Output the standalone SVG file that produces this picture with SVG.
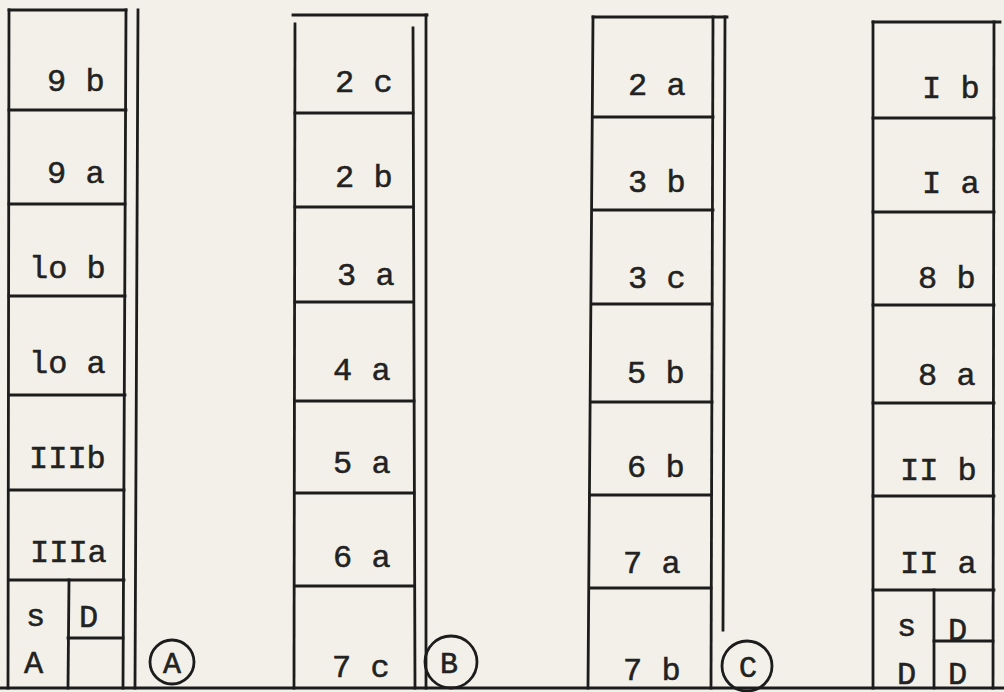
<svg xmlns="http://www.w3.org/2000/svg" width="1004" height="692" viewBox="0 0 1004 692">
<style>
.ln{stroke:#1c1c1c;stroke-width:2.8;fill:none;stroke-linecap:square}
.lb{font-family:"Liberation Mono","Courier New",monospace;font-size:32px;fill:#222;stroke:#222;stroke-width:0.5}
.cl{font-family:"Liberation Mono","Courier New",monospace;font-size:30px;fill:#222;stroke:#222;stroke-width:0.6;text-anchor:middle}
</style>
<rect width="1004" height="692" fill="#f2f0e9"/>
<g id="frame">
<line class="ln" x1="0" y1="688" x2="1004" y2="688"/>
</g>
<g id="colA">
<line class="ln" x1="9" y1="10" x2="126" y2="10"/>
<line class="ln" x1="9" y1="10" x2="8" y2="688" stroke-dasharray="30 3"/>
<line class="ln" x1="126" y1="10" x2="123" y2="688"/>
<line class="ln" x1="138" y1="10" x2="135" y2="688"/>
<line class="ln" x1="9" y1="110" x2="126" y2="110"/>
<line class="ln" x1="9" y1="204" x2="125" y2="204"/>
<line class="ln" x1="9" y1="296" x2="125" y2="296"/>
<line class="ln" x1="9" y1="395" x2="125" y2="395"/>
<line class="ln" x1="9" y1="490" x2="124" y2="490"/>
<line class="ln" x1="9" y1="580" x2="124" y2="580"/>
<line class="ln" x1="69" y1="580" x2="68" y2="688"/>
<line class="ln" x1="68" y1="638" x2="123" y2="638"/>
<text class="lb" x="47" y="91">9 b</text>
<text class="lb" x="47" y="183">9 a</text>
<text class="lb" x="29" y="278">lo b</text>
<text class="lb" x="29" y="373">lo a</text>
<text class="lb" x="29" y="468">IIIb</text>
<text class="lb" x="30" y="562">IIIa</text>
<text class="lb" x="26" y="626">s</text>
<text class="lb" x="79" y="627">D</text>
<text class="lb" x="24" y="673">A</text>
<circle class="ln" cx="172" cy="662" r="22"/>
<text class="cl" x="172" y="673">A</text>
</g>
<g id="colB">
<line class="ln" x1="293" y1="15" x2="427" y2="15"/>
<line class="ln" x1="295" y1="24" x2="294" y2="688"/>
<line class="ln" x1="413" y1="28" x2="415" y2="688"/>
<line class="ln" x1="426" y1="15" x2="426" y2="688"/>
<line class="ln" x1="295" y1="113" x2="413" y2="113"/>
<line class="ln" x1="295" y1="207" x2="413" y2="207"/>
<line class="ln" x1="295" y1="302" x2="413" y2="302"/>
<line class="ln" x1="295" y1="401" x2="414" y2="401"/>
<line class="ln" x1="295" y1="493" x2="414" y2="493"/>
<line class="ln" x1="295" y1="586" x2="414" y2="586"/>
<text class="lb" x="335" y="92">2 c</text>
<text class="lb" x="335" y="187">2 b</text>
<text class="lb" x="337" y="285">3 a</text>
<text class="lb" x="333" y="380">4 a</text>
<text class="lb" x="333" y="473">5 a</text>
<text class="lb" x="333" y="567">6 a</text>
<text class="lb" x="332" y="677">7 c</text>
<circle class="ln" cx="451" cy="662" r="26"/>
<text class="cl" x="449" y="673">B</text>
</g>
<g id="colC">
<line class="ln" x1="593" y1="17" x2="727" y2="17"/>
<line class="ln" x1="593" y1="17" x2="588" y2="688"/>
<line class="ln" x1="713" y1="17" x2="711" y2="688"/>
<line class="ln" x1="725" y1="17" x2="723" y2="630"/>
<line class="ln" x1="593" y1="117" x2="713" y2="117"/>
<line class="ln" x1="593" y1="210" x2="713" y2="210"/>
<line class="ln" x1="592" y1="304" x2="712" y2="304"/>
<line class="ln" x1="591" y1="402" x2="712" y2="402"/>
<line class="ln" x1="590" y1="495" x2="711" y2="495"/>
<line class="ln" x1="590" y1="588" x2="711" y2="588"/>
<text class="lb" x="628" y="95">2 a</text>
<text class="lb" x="628" y="192">3 b</text>
<text class="lb" x="628" y="288">3 c</text>
<text class="lb" x="627" y="383">5 b</text>
<text class="lb" x="627" y="477">6 b</text>
<text class="lb" x="623" y="573">7 a</text>
<text class="lb" x="623" y="680">7 b</text>
<circle class="ln" cx="747" cy="666" r="25"/>
<text class="cl" x="748" y="677">C</text>
</g>
<g id="colD">
<line class="ln" x1="873" y1="22" x2="1000" y2="22"/>
<line class="ln" x1="873" y1="22" x2="873" y2="688"/>
<line class="ln" x1="994" y1="22" x2="993" y2="688"/>
<line class="ln" x1="873" y1="118" x2="994" y2="118"/>
<line class="ln" x1="873" y1="212" x2="994" y2="212"/>
<line class="ln" x1="873" y1="305" x2="994" y2="305"/>
<line class="ln" x1="873" y1="403" x2="994" y2="403"/>
<line class="ln" x1="873" y1="496" x2="994" y2="496"/>
<line class="ln" x1="873" y1="590" x2="994" y2="590"/>
<line class="ln" x1="934" y1="590" x2="934" y2="688"/>
<line class="ln" x1="934" y1="641" x2="993" y2="641"/>
<text class="lb" x="922" y="98">I b</text>
<text class="lb" x="922" y="193">I a</text>
<text class="lb" x="918" y="288">8 b</text>
<text class="lb" x="918" y="385">8 a</text>
<text class="lb" x="900" y="480">II b</text>
<text class="lb" x="900" y="573">II a</text>
<text class="lb" x="897" y="636">s</text>
<text class="lb" x="948" y="640">D</text>
<text class="lb" x="897" y="684">D</text>
<text class="lb" x="948" y="684">D</text>
</g>
</svg>
